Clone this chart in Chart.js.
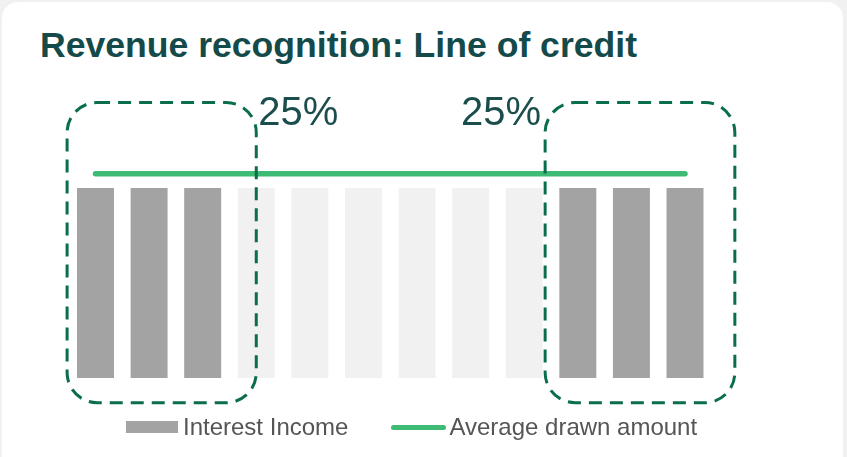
<!DOCTYPE html>
<html>
<head>
<meta charset="utf-8">
<script src="https://cdn.jsdelivr.net/npm/chart.js@4/dist/chart.umd.min.js"></script>
<style>
  html, body { margin: 0; padding: 0; background: #f1f1f1; width: 847px; height: 457px; overflow: hidden; }
  #card { position: absolute; left: 2px; top: 2px; width: 841px; height: 480px; background: #ffffff; border-radius: 16px; }
  #title { position: absolute; left: 40px; top: 25px; font-family: "Liberation Sans", Arial, sans-serif; font-weight: bold; font-size: 35.6px; line-height: 40px; color: #154a4a; white-space: nowrap; }
  #wrap { position: absolute; left: 0; top: 0; width: 847px; height: 457px; }
  #legend { position: absolute; top: 413px; left: 126px; font-family: "Liberation Sans", Arial, sans-serif; font-size: 24px; line-height: 28px; height: 28px; color: #555555; white-space: nowrap; display: flex; align-items: center; }
  .item { display: flex; align-items: center; height: 28px; margin-right: 43px; }
  .box { display: block; width: 52px; height: 12px; background: #a3a3a3; margin-right: 5px; }
  .ln { display: block; width: 55px; height: 5px; border-radius: 3px; background: #3dbb74; margin-right: 3px; }
</style>
</head>
<body>
<div id="card"></div>
<div id="title">Revenue recognition: Line of credit</div>
<div id="wrap"><canvas id="c" width="847" height="457"></canvas></div>
<div id="legend"><span class="item"><span class="box"></span>Interest Income</span><span class="item"><span class="ln"></span>Average drawn amount</span></div>
<script>
const categories = ["1","2","3","4","5","6","7","8","9","10","11","12"];
const interestIncome = [100,100,100,100,100,100,100,100,100,100,100,100];
const averageDrawn = [107.5,107.5,107.5,107.5,107.5,107.5,107.5,107.5,107.5,107.5,107.5,107.5];
const highlighted = [true,true,true,false,false,false,false,false,false,true,true,true];
const boxLabels = ["25%","25%"];
// boxes in category units / value units
const boxRanges = [[-0.53, 3.0], [8.39, 11.93]];
const boxValueRange = [-13, 145];

const boxesPlugin = {
  id: 'boxes',
  afterDatasetsDraw(chart) {
    const ctx = chart.ctx;
    const xs = chart.scales.x, ys = chart.scales.y;
    const top = ys.getPixelForValue(boxValueRange[1]);
    const bottom = ys.getPixelForValue(boxValueRange[0]);
    ctx.save();
    ctx.strokeStyle = '#0b6e4a';
    ctx.lineWidth = 3;
    ctx.setLineDash([13, 8]);
    boxRanges.forEach(([a, b], i) => {
      const l = xs.getPixelForValue(a), r = xs.getPixelForValue(b);
      ctx.beginPath();
      ctx.roundRect(l, top, r - l, bottom - top, 30);
      ctx.stroke();
    });
    ctx.setLineDash([]);
    ctx.fillStyle = '#1b4d4d';
    ctx.font = '40px "Liberation Sans", Arial, sans-serif';
    ctx.textBaseline = 'alphabetic';
    const l0 = xs.getPixelForValue(boxRanges[0][1]);
    ctx.textAlign = 'left';
    ctx.fillText(boxLabels[0], l0 + 2, top + 22);
    const l1 = xs.getPixelForValue(boxRanges[1][0]);
    ctx.textAlign = 'right';
    ctx.fillText(boxLabels[1], l1 - 4, top + 22);
    ctx.restore();
  }
};

new Chart(document.getElementById('c'), {
  data: {
    labels: categories,
    datasets: [
      { type: 'line', label: 'Average drawn amount', data: averageDrawn, borderColor: '#3dbb74', borderWidth: 5.5, borderCapStyle: 'round', pointRadius: 0, fill: false, order: 0 },
      { type: 'bar', label: 'Interest Income', data: interestIncome,
        backgroundColor: highlighted.map(h => h ? '#a3a3a3' : '#f1f1f1'),
        categoryPercentage: 1, barPercentage: 0.69, order: 1 }
    ]
  },
  options: {
    responsive: false,
    animation: false,
    layout: { padding: { left: 68.7, right: 135.2, top: 93, bottom: 79 } },
    plugins: { legend: { display: false }, tooltip: { enabled: false } },
    scales: {
      x: { display: false, offset: true },
      y: { display: false, min: 0, max: 150 }
    }
  },
  plugins: [boxesPlugin]
});
</script>
</body>
</html>
